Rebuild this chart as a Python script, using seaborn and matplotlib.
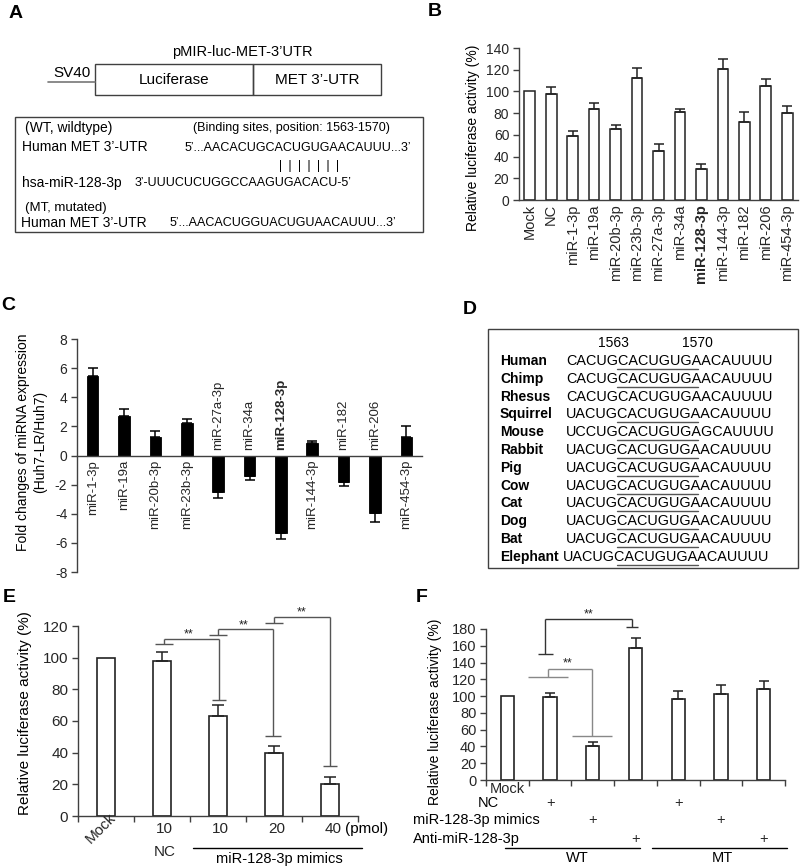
import numpy as np
import matplotlib
matplotlib.use("Agg")
import matplotlib.pyplot as plt
from matplotlib import transforms
from matplotlib.patches import Rectangle
import seaborn as sns

sns.set_style("ticks")
plt.rcParams['font.family'] = ['Liberation Sans', 'DejaVu Sans']
plt.rcParams['axes.unicode_minus'] = False

# ---------------- data ----------------
# Panel B
b_cats = ["Mock", "NC", "miR-1-3p", "miR-19a", "miR-20b-3p", "miR-23b-3p", "miR-27a-3p",
          "miR-34a", "miR-128-3p", "miR-144-3p", "miR-182", "miR-206", "miR-454-3p"]
b_vals = [100, 98, 59, 84, 65, 112, 45, 81, 29, 121, 72, 105, 80]
b_errs = [0, 6, 5, 5, 4, 10, 7, 3, 4, 9, 9, 6, 7]

# Panel C
c_cats = ["miR-1-3p", "miR-19a", "miR-20b-3p", "miR-23b-3p", "miR-27a-3p", "miR-34a",
          "miR-128-3p", "miR-144-3p", "miR-182", "miR-206", "miR-454-3p"]
c_vals = [5.45, 2.7, 1.3, 2.2, -2.5, -1.4, -5.35, 0.85, -1.8, -3.95, 1.25]
c_errs = [0.55, 0.5, 0.4, 0.3, 0.4, 0.3, 0.4, 0.12, 0.3, 0.65, 0.75]

# Panel D
d_species = ["Human", "Chimp", "Rhesus", "Squirrel", "Mouse", "Rabbit", "Pig", "Cow",
             "Cat", "Dog", "Bat", "Elephant"]
d_seqs = ["CACUGCACUGUGAACAUUUU", "CACUGCACUGUGAACAUUUU", "CACUGCACUGUGAACAUUUU",
          "UACUGCACUGUGAACAUUUU", "UCCUGCACUGUGAGCAUUUU", "UACUGCACUGUGAACAUUUU",
          "UACUGCACUGUGAACAUUUU", "UACUGCACUGUGAACAUUUU", "UACUGCACUGUGAACAUUUU",
          "UACUGCACUGUGAACAUUUU", "UACUGCACUGUGAACAUUUU", "UACUGCACUGUGAACAUUUU"]
d_underlined = [1, 1, 0, 1, 1, 1, 1, 1, 1, 1, 1, 1]

# Panel E
e_keys = ["Mock", "NC 10", "mimics 10", "mimics 20", "mimics 40"]
e_doses = ["", "10", "10", "20", "40"]
e_vals = [100, 98, 63, 39.8, 20]
e_errs = [0, 5.6, 7, 4.4, 4.6]

# Panel F
f_keys = ["Mock", "WT NC", "WT mimics", "WT anti", "MT NC", "MT mimics", "MT anti"]
f_nc = [0, 1, 0, 0, 1, 0, 0]
f_mim = [0, 0, 1, 0, 0, 1, 0]
f_anti = [0, 0, 0, 1, 0, 0, 1]
f_vals = [100, 98.5, 40, 157, 96, 103, 109]
f_errs = [0, 5, 5, 12, 10, 10, 8.5]

# ---------------- figure ----------------
W, H = 800, 866
fig = plt.figure(figsize=(W / 100, H / 100), dpi=100)
fig.patch.set_facecolor("white")

ov = fig.add_axes([0, 0, 1, 1])
ov.set_xlim(0, W)
ov.set_ylim(H, 0)
ov.axis("off")
ov.patch.set_alpha(0)

EDGE = "#222222"
SPINE = "#404040"


def px_axes(x0, y0, x1, y1):
    return fig.add_axes([x0 / W, 1 - y1 / H, (x1 - x0) / W, (y1 - y0) / H])


def style(ax, fs):
    for s in ["top", "right"]:
        ax.spines[s].set_visible(False)
    for s in ["left", "bottom"]:
        ax.spines[s].set_color(SPINE)
        ax.spines[s].set_linewidth(1.0)
    ax.tick_params(axis="y", length=4, width=1, color=SPINE, labelsize=fs, pad=3)
    ax.set_xlabel("")
    ax.set_ylabel("")
    ax.patch.set_alpha(0)


def one_sided_err(ax, vals, errs, color=EDGE, cap=3.5):
    vals = np.asarray(vals, float)
    errs = np.asarray(errs, float)
    idx = np.where(errs > 0)[0]
    lower = np.where(vals < 0, errs, 0)[idx]
    upper = np.where(vals >= 0, errs, 0)[idx]
    ax.errorbar(idx, vals[idx], yerr=[lower, upper], fmt="none", ecolor=color,
                elinewidth=1.1, capsize=cap, capthick=1.1, zorder=3)


def bracket(ax, xl, xr, yl, yr, ytop, hl, hr, color, sx, sy):
    kw = dict(color=color, lw=1.0, clip_on=False, solid_capstyle="butt")
    ax.plot([xl - hl, xl + hl], [yl, yl], **kw)
    ax.plot([xl, xl], [yl, ytop], **kw)
    ax.plot([xl, xr], [ytop, ytop], **kw)
    ax.plot([xr, xr], [ytop, yr], **kw)
    ax.plot([xr - hr, xr + hr], [yr, yr], **kw)
    ax.text(sx, sy, "**", ha="center", va="center", fontsize=9, color="#222", clip_on=False)


def T(x, y, s, **kw):
    kw.setdefault("ha", "center")
    kw.setdefault("va", "center")
    kw.setdefault("color", "black")
    ov.text(x, y, s, **kw)


# panel letters
for (x, y, s) in [(16, 13, "A"), (435, 11, "B"), (8, 306, "C"), (470, 309, "D"),
                  (9, 597, "E"), (422, 597, "F")]:
    T(x, y, s, fontsize=14, fontweight="bold")

# ---------------- Panel A ----------------
T(242, 52, "pMIR-luc-MET-3\u2019UTR", fontsize=10.5)
T(72, 73, "SV40", fontsize=11)
ov.plot([48, 95], [82, 82], color="#777", lw=1.2)
ov.add_patch(Rectangle((95, 64), 158, 31, fill=False, ec=SPINE, lw=1))
ov.add_patch(Rectangle((253, 64), 128, 31, fill=False, ec=SPINE, lw=1))
T(174, 80, "Luciferase", fontsize=11)
T(317, 80, "MET 3\u2019-UTR", fontsize=11)
ov.add_patch(Rectangle((15, 117), 408, 115, fill=False, ec=SPINE, lw=1))
T(25, 128, "(WT, wildtype)", fontsize=10, ha="left")
T(193, 128, "(Binding sites, position: 1563-1570)", fontsize=9, ha="left")
T(22, 147, "Human MET 3\u2019-UTR", fontsize=10, ha="left")
T(185, 148, "5\u2019...AACACUGCACUGUGAACAUUU...3\u2019", fontsize=9, ha="left")
T(309, 166, "|  |  |  |  |  |  |", fontsize=8.5)
T(22, 183, "hsa-miR-128-3p", fontsize=10, ha="left")
T(135, 183, "3\u2019-UUUCUCUGGCCAAGUGACACU-5\u2019", fontsize=9, ha="left")
T(25, 208.5, "(MT, mutated)", fontsize=9.5, ha="left")
T(21, 223, "Human MET 3\u2019-UTR", fontsize=10, ha="left")
T(170, 223, "5\u2019...AACACUGGUACUGUAACAUUU...3\u2019", fontsize=9, ha="left")

# ---------------- Panel B ----------------
axb = px_axes(519, 48, 798, 200)
sns.barplot(x=b_cats, y=b_vals, color="white", edgecolor=EDGE, linewidth=1.1,
            width=0.5, saturation=1, errorbar=None, ax=axb)
one_sided_err(axb, b_vals, b_errs)
style(axb, 10)
axb.set_ylim(0, 140)
axb.set_yticks(range(0, 141, 20))
axb.set_xlim(-0.5, len(b_cats) - 0.5)
axb.set_xticks(range(len(b_cats)))
axb.set_xticklabels(b_cats, rotation=90, fontsize=10.5)
axb.tick_params(axis="x", length=0, pad=3)
for lab in axb.get_xticklabels():
    if lab.get_text() == "miR-128-3p":
        lab.set_fontweight("bold")
T(473, 138, "Relative luciferase activity (%)", fontsize=10, rotation=90)

# ---------------- Panel C ----------------
axc = px_axes(77, 339, 422, 572)
sns.barplot(x=c_cats, y=c_vals, color="black", edgecolor="black", linewidth=0.6,
            width=0.37, saturation=1, errorbar=None, ax=axc)
one_sided_err(axc, c_vals, c_errs, color="black", cap=3.5)
style(axc, 10)
axc.set_ylim(-8, 8)
axc.set_yticks(range(-8, 9, 2))
axc.set_xlim(-0.5, len(c_cats) - 0.5)
axc.spines["bottom"].set_position(("data", 0))
axc.set_xticks([])
for i, (c, v) in enumerate(zip(c_cats, c_vals)):
    fw = "bold" if c == "miR-128-3p" else "normal"
    if v >= 0:
        axc.text(i, -0.3, c, rotation=90, ha="center", va="top", fontsize=9.5, fontweight=fw)
    else:
        axc.text(i, 0.4, c, rotation=90, ha="center", va="bottom", fontsize=9.5, fontweight=fw)
T(23, 442, "Fold changes of miRNA expression", fontsize=10, rotation=90)
T(40, 442, "(Huh7-LR/Huh7)", fontsize=10, rotation=90)

# ---------------- Panel D ----------------
ov.add_patch(Rectangle((488, 329), 310, 239, fill=False, ec=SPINE, lw=1))
T(613, 343, "1563", fontsize=10)
T(697, 343, "1570", fontsize=10)
for k, (sp, sq, ul) in enumerate(zip(d_species, d_seqs, d_underlined)):
    y = 361 + 17.8 * k
    T(500, y, sp, fontsize=10, fontweight="bold", ha="left")
    T(563 if sp == "Elephant" else 566, y, sq, fontsize=10.4, ha="left")
    if ul:
        ov.plot([617, 698], [y + 8, y + 8], color="#555", lw=1)

# ---------------- Panel E ----------------
axe = px_axes(78, 626, 358, 816)
sns.barplot(x=e_keys, y=e_vals, color="white", edgecolor=EDGE, linewidth=1.2,
            width=0.33, saturation=1, errorbar=None, ax=axe)
one_sided_err(axe, e_vals, e_errs, cap=4)
style(axe, 11)
axe.set_ylim(0, 120)
axe.set_yticks(range(0, 121, 20))
axe.set_xlim(-0.5, len(e_keys) - 0.5)
axe.set_xticks([])
axe.set_xticks(np.arange(-0.5, len(e_keys), 1), minor=True)
axe.tick_params(axis="x", which="minor", length=4, width=1, color=SPINE)
bracket(axe, 1.04, 2.02, 108.6, 73.3, 111.8, 0.16, 0.13, "#555", 1.48, 114.5)
bracket(axe, 2.0, 2.98, 114.3, 50.5, 118.1, 0.16, 0.14, "#555", 2.45, 120.5)
bracket(axe, 3.0, 4.0, 121.9, 31.6, 125.7, 0.16, 0.13, "#555", 3.5, 128.5)
te = transforms.blended_transform_factory(axe.transData, ov.transData)
for i, d in enumerate(e_doses):
    if d:
        axe.text(i + 0.05, 829, d, transform=te, ha="center", va="center", fontsize=11)
axe.text(0 - 0.1, 828, e_keys[0], transform=te, ha="center", va="center", fontsize=11, rotation=45)
T(367, 829, "(pmol)", fontsize=11)
axe.text(1.05, 852, "NC", transform=te, ha="center", va="center", fontsize=11)
ov.plot([193, 362], [848, 848], color="black", lw=1)
T(279, 859, "miR-128-3p mimics", fontsize=10.5)
T(25, 713, "Relative luciferase activity (%)", fontsize=11, rotation=90)

# ---------------- Panel F ----------------
axf = px_axes(486, 629, 785, 780)
sns.barplot(x=f_keys, y=f_vals, color="white", edgecolor=EDGE, linewidth=1.2,
            width=0.31, saturation=1, errorbar=None, ax=axf)
one_sided_err(axf, f_vals, f_errs, cap=3.5)
style(axf, 10.5)
axf.set_ylim(0, 180)
axf.set_yticks(range(0, 181, 20))
axf.set_xlim(-0.5, len(f_keys) - 0.5)
axf.set_xticks([])
axf.set_xticks(np.arange(-0.5, len(f_keys), 1), minor=True)
axf.tick_params(axis="x", which="minor", length=4, width=1, color=SPINE)
bracket(axf, 0.89, 2.92, 150, 182.4, 191.9, 0.18, 0.14, "#333", 1.91, 197)
bracket(axf, 0.95, 1.98, 122.8, 52.4, 132, 0.46, 0.47, "#888", 1.42, 139.5)
tf = transforms.blended_transform_factory(axf.transData, ov.transData)
axf.text(0, 789, f_keys[0], transform=tf, ha="center", va="center", fontsize=10.5)
for flags, yy in [(f_nc, 803), (f_mim, 820), (f_anti, 839)]:
    for i, fl in enumerate(flags):
        if fl:
            axf.text(i, yy, "+", transform=tf, ha="center", va="center", fontsize=10.5)
T(499, 803, "NC", fontsize=10.5, ha="right")
T(540, 820, "miR-128-3p mimics", fontsize=10.5, ha="right")
T(520, 839, "Anti-miR-128-3p", fontsize=10.5, ha="right")
ov.plot([505, 640], [848, 848], color="black", lw=1)
ov.plot([652, 787], [848, 848], color="black", lw=1)
T(577, 858, "WT", fontsize=10.5)
T(722, 858, "MT", fontsize=10.5)
T(435, 712, "Relative luciferase activity (%)", fontsize=10, rotation=90)

fig.savefig("out.png", dpi=100)
